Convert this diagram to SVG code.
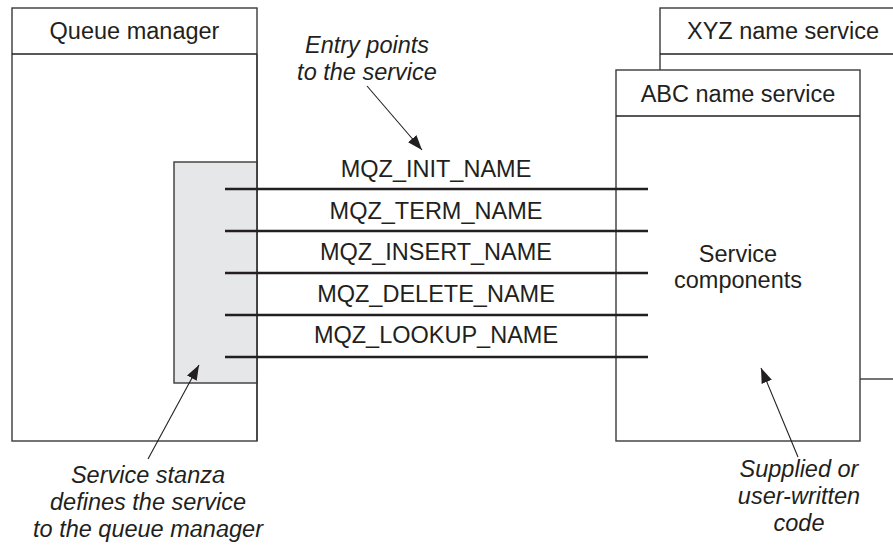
<svg xmlns="http://www.w3.org/2000/svg" width="893" height="546" viewBox="0 0 893 546">
<defs>
<style>
.box{fill:#fff;stroke:#3a3a3a;stroke-width:1.4}
.hdr{stroke:#231f20;stroke-width:1.4}
.t{font-family:"Liberation Sans",Arial,sans-serif;font-size:23.5px;fill:#231f20;text-anchor:middle}
.i{font-style:italic}
.ep{stroke:#231f20;stroke-width:2.3}
.call{stroke:#231f20;stroke-width:1.1;fill:none;marker-end:url(#ah)}
</style>
<marker id="ah" viewBox="0 0 15 11" refX="15" refY="5.5" markerWidth="15" markerHeight="11" markerUnits="userSpaceOnUse" orient="auto">
<path d="M0,0 L15,5.5 L0,11 z" fill="#231f20"/>
</marker>
</defs>
<rect width="893" height="546" fill="#fff"/>
<g id="xyz">
<rect class="box" x="660" y="8" width="240" height="371"/>
<line class="hdr" x1="660" y1="54" x2="893" y2="54"/>
<text class="t" x="783" y="39">XYZ name service</text>
</g>
<g id="abc">
<rect class="box" x="616" y="70" width="244" height="371"/>
<line class="hdr" x1="616" y1="116" x2="860" y2="116"/>
<text class="t" x="738" y="102">ABC name service</text>
<text class="t" x="738" y="262">Service</text>
<text class="t" x="738" y="288">components</text>
</g>
<g id="qm">
<rect class="box" x="12" y="8" width="245" height="433"/>
<line class="hdr" x1="12" y1="54" x2="257" y2="54"/>
<text class="t" x="134.5" y="39">Queue manager</text>
</g>
<g id="stanza">
<rect x="174" y="162" width="83" height="221" fill="#e6e7e8" stroke="#3a3a3a" stroke-width="1.4"/>
<line x1="257" y1="54" x2="257" y2="441" stroke="#3a3a3a" stroke-width="1.4"/>
</g>
<g id="entry-points">
<text class="t" x="436" y="177">MQZ_INIT_NAME</text>
<text class="t" x="436" y="219">MQZ_TERM_NAME</text>
<text class="t" x="436" y="260">MQZ_INSERT_NAME</text>
<text class="t" x="436" y="302">MQZ_DELETE_NAME</text>
<text class="t" x="436" y="343">MQZ_LOOKUP_NAME</text>
</g>
<g id="connectors">
<line class="ep" x1="225" y1="189" x2="648" y2="189"/>
<line class="ep" x1="225" y1="231" x2="648" y2="231"/>
<line class="ep" x1="225" y1="273" x2="648" y2="273"/>
<line class="ep" x1="225" y1="315" x2="648" y2="315"/>
<line class="ep" x1="225" y1="357" x2="648" y2="357"/>
<line class="call" x1="367" y1="86" x2="422" y2="150"/>
<line class="call" x1="148" y1="459" x2="199" y2="365"/>
<line class="call" x1="798" y1="457" x2="761" y2="368"/>
</g>
<g id="notes">
<text class="t i" x="367" y="53">Entry points</text>
<text class="t i" x="367" y="80">to the service</text>
<text class="t i" x="148" y="483">Service stanza</text>
<text class="t i" x="148" y="510">defines the service</text>
<text class="t i" x="148" y="537">to the queue manager</text>
<text class="t i" x="799" y="477">Supplied or</text>
<text class="t i" x="799" y="504">user-written</text>
<text class="t i" x="799" y="531">code</text>
</g>
</svg>
